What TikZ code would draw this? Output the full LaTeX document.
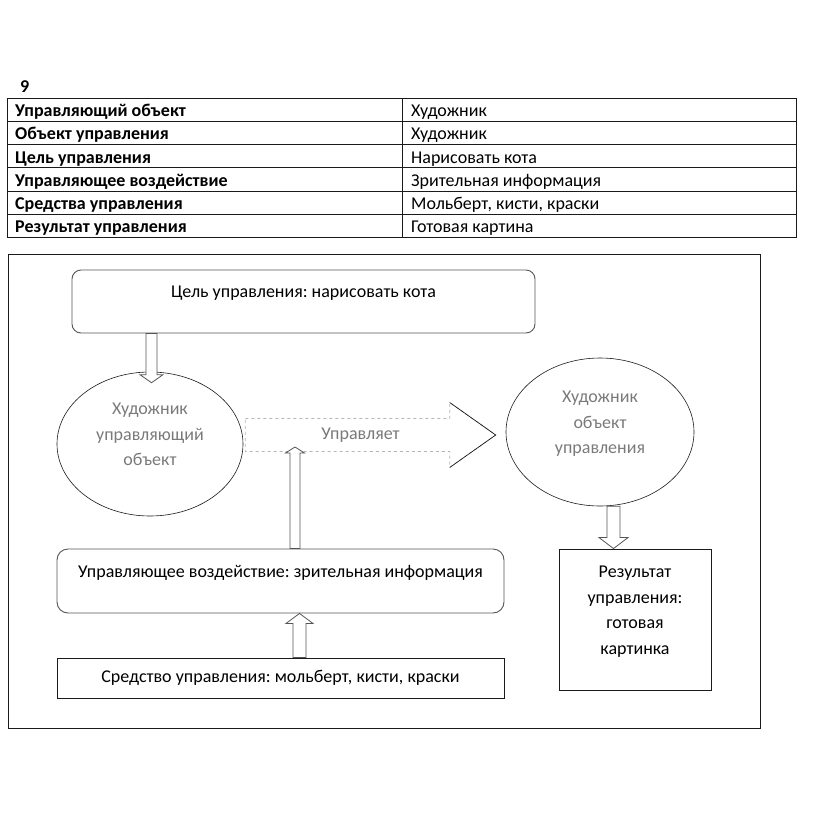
\documentclass[tikz,border=0pt]{standalone}
\usepackage{fontspec}
\setmainfont{Carlito}
\usetikzlibrary{calc,shapes.geometric}
\definecolor{ink}{HTML}{1a1a1a}
\definecolor{edge}{HTML}{555555}
\definecolor{faded}{HTML}{7a7a7a}
\definecolor{ghostline}{HTML}{b5b5b5}
% hollow block arrow: [style]{from}{tip}{shaft half}{head half}{head length}
\newcommand{\hollowarrow}[6][]{%
  \coordinate (ha-base) at ($(#3)!#6!(#2)$);
  \draw[#1] ($(#2)!#4!90:(#3)$) -- ($(ha-base)!#4!90:(#3)$)
    -- ($(ha-base)!#5!90:(#3)$) -- (#3)
    -- ($(ha-base)!#5!-90:(#3)$) -- ($(ha-base)!#4!-90:(#3)$)
    -- ($(#2)!#4!-90:(#3)$) -- cycle;%
}
\tikzset{
  txt/.style={font=\fontsize{18}{25.5}\selectfont},
  cell/.style={txt, anchor=base west},
  raised/.style={text depth=19pt},
  goalbox/.style={txt, raised, draw=edge, line width=0.9pt, rounded corners=9pt},
  softbox/.style={txt, raised, draw=edge, line width=0.9pt, rounded corners=11pt},
  hardbox/.style={txt, draw=ink, line width=0.9pt, align=center},
  oval/.style={txt, raised, ellipse, draw=ink, line width=0.6pt, align=center, text=faded},
  fatline/.style={draw=edge, line width=0.8pt, fill=white},
}

\begin{document}
\frenchspacing
\begin{tikzpicture}[x=1pt, y=-1pt, every node/.style={inner sep=0pt}]
\useasboundingbox (0,0) rectangle (825,838);

% task number
\node[cell, font=\bfseries\fontsize{18}{20}\selectfont] (num) at (20,92) {9};

% summary table
\draw[ink, line width=0.9pt] (7.5,98.3) rectangle (796,237.3);
\foreach \i in {1,...,5}
  \draw[ink, line width=0.9pt] (7.5,98.3+23.17*\i) -- (796,98.3+23.17*\i);
\draw[ink, line width=0.9pt] (402.5,98.3) -- (402.5,237.3);
\foreach \l/\r [count=\i] in {Управляющий объект/Художник,
    Объект управления/Художник,
    Цель управления/Нарисовать кота,
    Управляющее воздействие/Зрительная информация,
    Средства управления/{Мольберт, кисти, краски},
    Результат управления/Готовая картина} {
  \node[cell, font=\bfseries\fontsize{18}{20}\selectfont] (key\i) at (15,93.6+23.17*\i) {\l};
  \node[cell] (val\i) at (411,93.6+23.17*\i) {\r};
}

% diagram frame
\draw[ink, line width=1pt] (8,254) rectangle (760,728);

\node[goalbox, minimum width=463pt, minimum height=63pt] (goal) at (303.5,301.5)
  {Цель управления: нарисовать кота};
\node[oval, minimum width=186pt, minimum height=144pt] (subject) at (150,444)
  {Художник\\управляющий\\объект};
\node[oval, minimum width=188pt, minimum height=148pt] (object) at (600,432)
  {Художник\\объект\\управления};
\node[softbox, minimum width=447pt, minimum height=64pt] (action) at (280.5,581)
  {Управляющее воздействие: зрительная информация};
\node[hardbox, minimum width=447pt, minimum height=40pt] (means) at (280.5,678)
  {Средство управления: мольберт, кисти, краски};
\node[hardbox, raised, minimum width=152pt, minimum height=141pt] (result) at (635,619.5)
  {Результат\\управления:\\готовая\\картинка};

% big "manages" arrow between the two ovals
\coordinate (m-from) at ([shift={(2pt,9pt)}]subject.east);
\path (object.west |- m-from) ++(-10,0) coordinate (m-to);
\hollowarrow[draw=ghostline, dashed, line width=0.8pt, fill=white]{m-from}{m-to}{16.5pt}{32.5pt}{46pt}
\draw[ink, line width=0.7pt] ($(ha-base)!32.5pt!90:(m-to)$) -- (m-to)
  -- ($(ha-base)!32.5pt!-90:(m-to)$);
\node[txt, text=faded] (mlabel) at ($(m-from)!0.46!(m-to)$) {Управляет};

% goal -> subject
\coordinate (g-from) at ([xshift=1.5pt]goal.south -| subject.north);
\coordinate (g-to) at ([yshift=-11pt]g-from |- subject.north);
\hollowarrow[fatline]{g-from}{g-to}{5.5pt}{11.5pt}{8pt}

% object -> result
\coordinate (o-from) at ([xshift=13.5pt]object.south);
\coordinate (o-to) at (result.north -| o-from);
\hollowarrow[fatline]{o-from}{o-to}{6.5pt}{14.5pt}{11pt}

% action -> manages arrow
\coordinate (a-from) at ([xshift=14.5pt]action.north);
\path (a-from |- m-from) ++(0,12) coordinate (a-to);
\hollowarrow[fatline]{a-from}{a-to}{5pt}{9.5pt}{6pt}

% means -> action
\coordinate (s-from) at ([xshift=19pt]means.north);
\coordinate (s-to) at (action.south -| s-from);
\hollowarrow[fatline]{s-from}{s-to}{6.5pt}{13.5pt}{10pt}

\end{tikzpicture}
\end{document}
